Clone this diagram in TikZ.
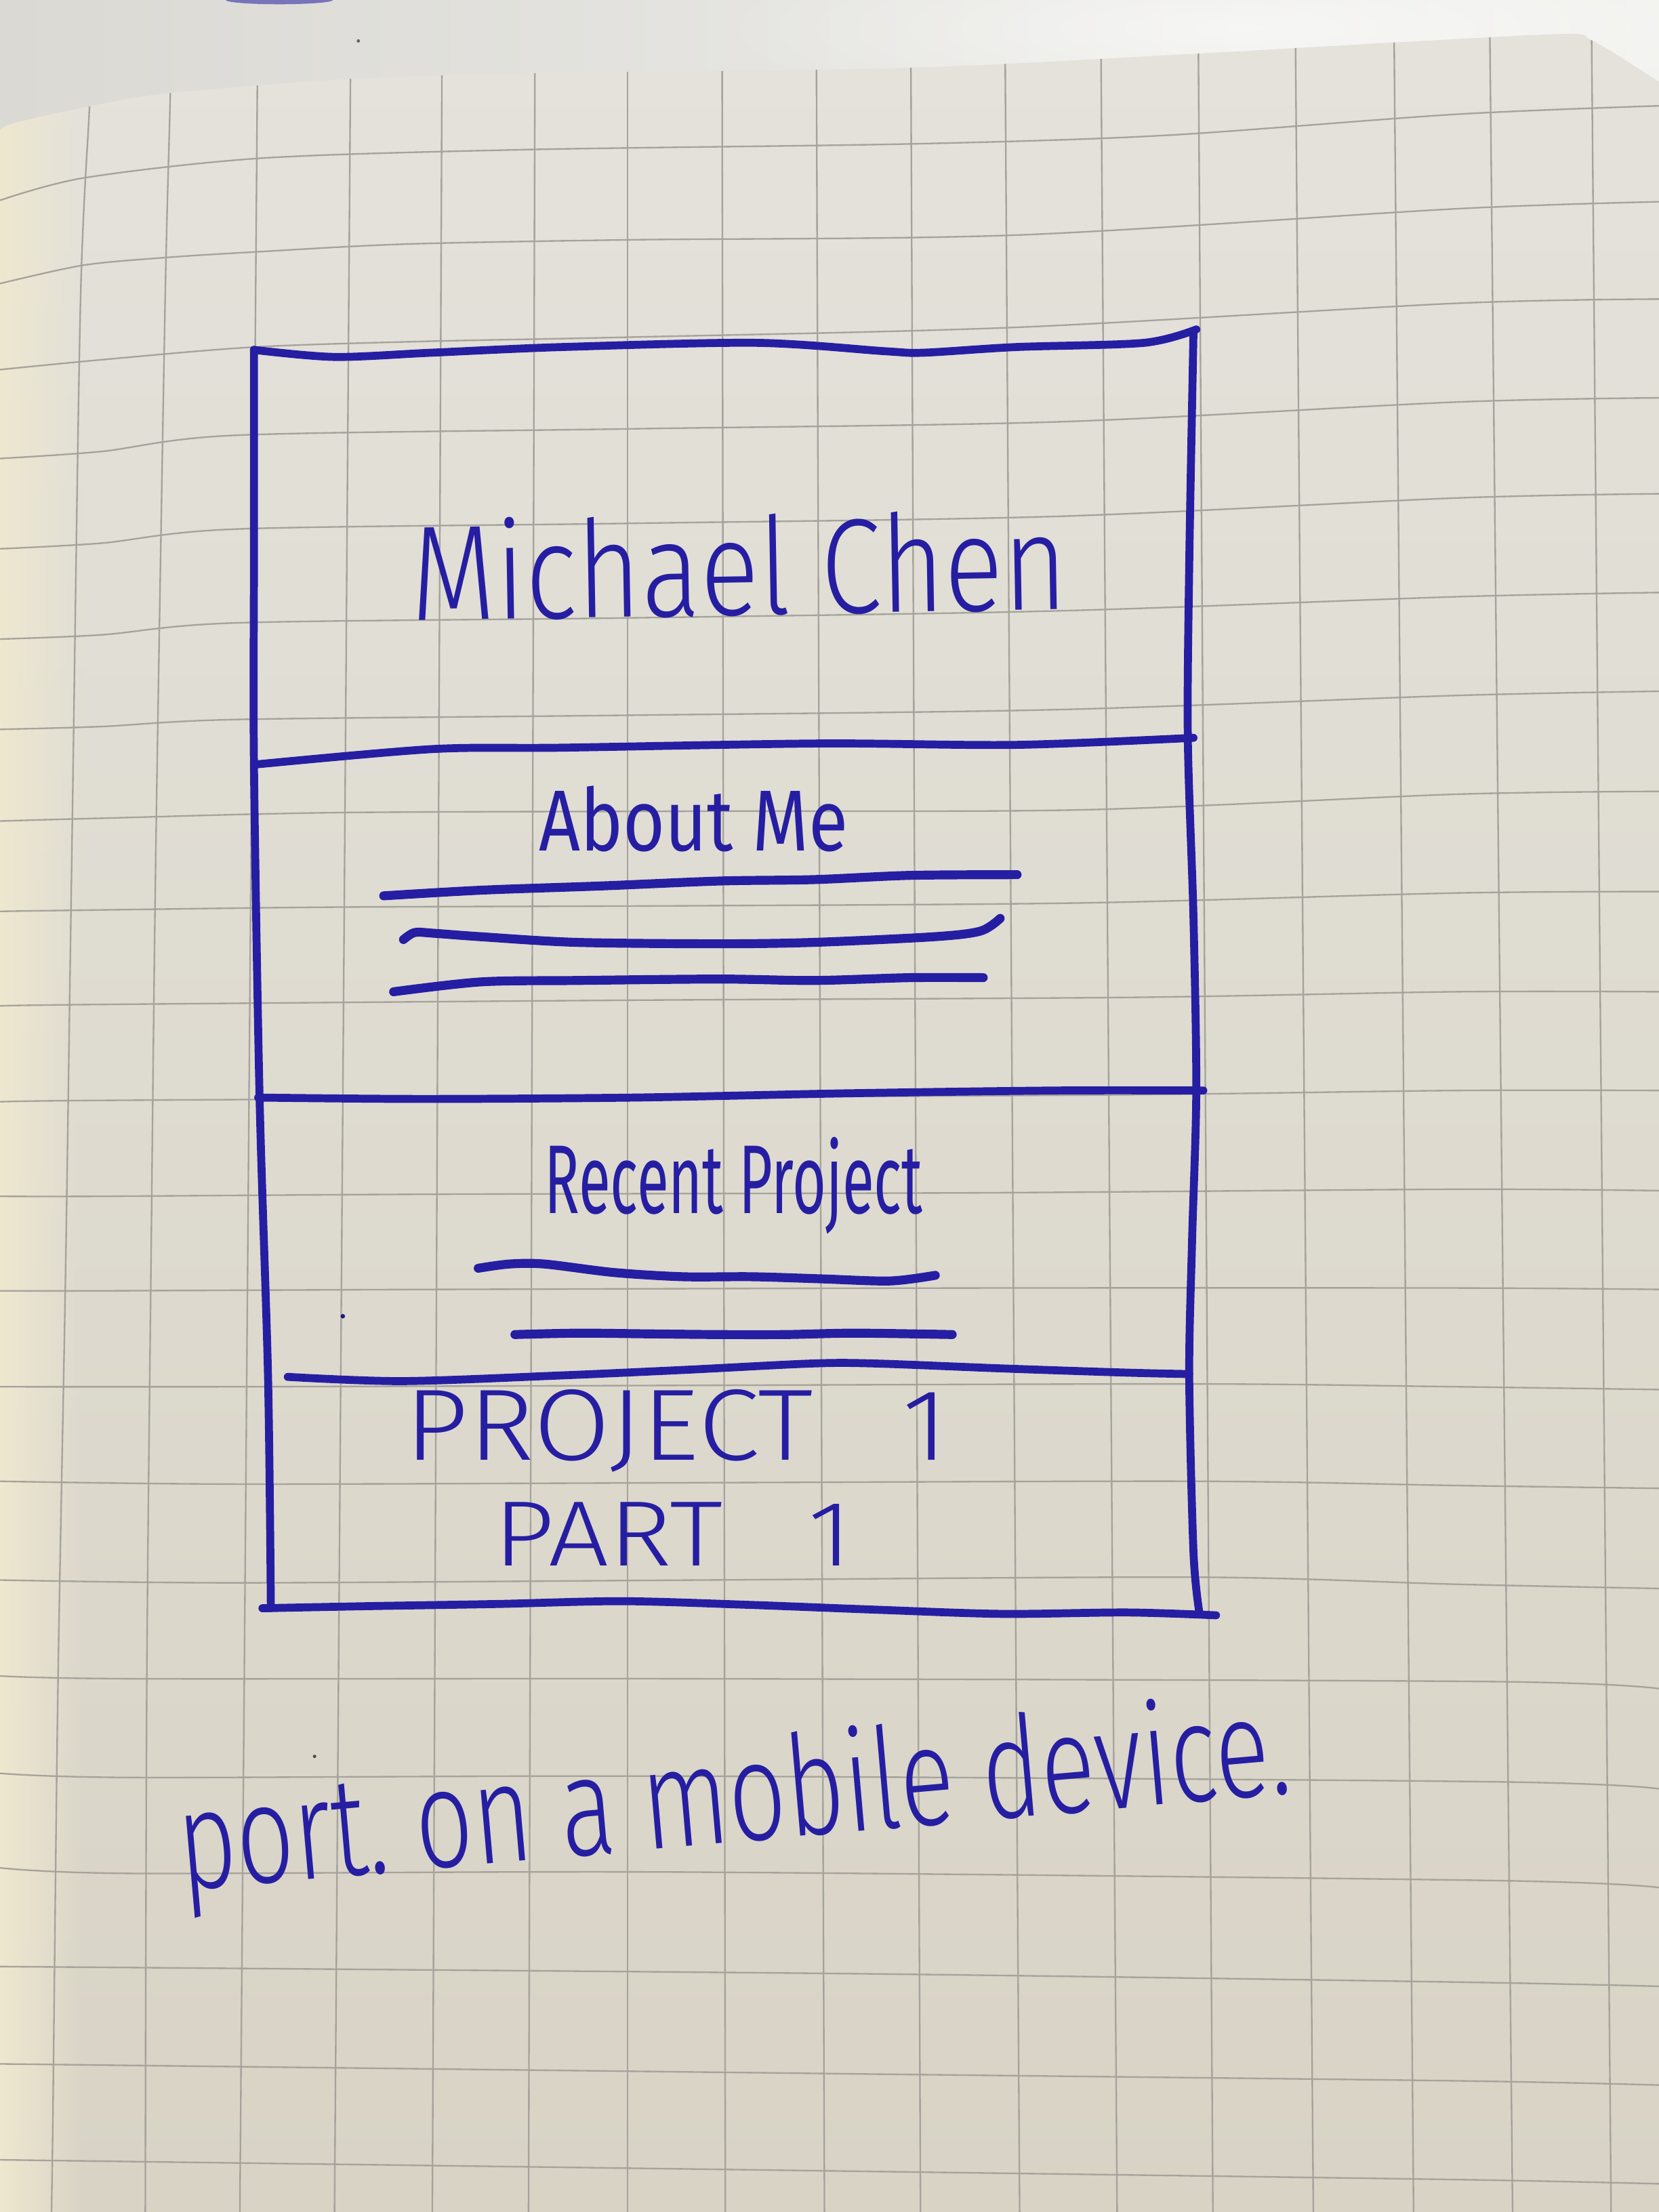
\documentclass[tikz,border=0pt]{standalone}
\usepackage{fontspec}
\usepackage{graphicx}
\usetikzlibrary{fadings}
\newfontfamily\handfont{Fira Sans}
\newfontfamily\handthin{Fira Sans Light}

\definecolor{ink}{RGB}{38,30,162}
\definecolor{paperTop}{RGB}{228,226,219}
\definecolor{paperBot}{RGB}{216,211,197}
\definecolor{backLeft}{RGB}{218,217,212}
\definecolor{backRight}{RGB}{242,242,239}
\definecolor{gutter}{RGB}{238,232,208}
\definecolor{rule}{RGB}{166,163,156}

\tikzfading[name=faderight, left color=transparent!0, right color=transparent!100]
\tikzfading[name=softglow, inner color=transparent!0, outer color=transparent!100]

\tikzset{
  gridline/.style={draw=rule, line width=0.32pt},
  boxline/.style={draw=ink, line width=1.6pt, line cap=round, line join=round},
  underline/.style={draw=ink, line width=1.8pt, line cap=round, line join=round},
  handtext/.style={text=ink, inner sep=0pt, outer sep=0pt, anchor=base west},
  pageoutline/.style={insert path={
    plot[smooth, tension=0.5] coordinates {(0,92) (11,87) (60,76) (120,66) (247,56)
      (375,52) (645,48) (848,38) (990,30) (1110,24) (1127,28) (1148,40) (1176,58)}
    -- (1176,1568) -- (0,1568) -- cycle}},
}

\begin{document}
\begin{tikzpicture}[x=0.01cm, y=-0.01cm]
\useasboundingbox (0,0) rectangle (1176,1568);

% surface behind the notebook page
\shade[left color=backLeft, right color=backRight] (0,0) rectangle (1176,120);
\fill[white, opacity=0.55, path fading=softglow] (880,20) ellipse [x radius=380, y radius=70];
\fill[ink, opacity=0.55] (198,0) ellipse [x radius=38, y radius=3];
\fill[black!60] (254,29) circle (1.2);

% the page
\shade[top color=paperTop, bottom color=paperBot, pageoutline];
\begin{scope}
  \clip[pageoutline];
  \fill[gutter, path fading=faderight] (0,80) rectangle (60,1568);

  % vertical rules (x at y=112 and at y=1450)
  \draw[gridline] plot[smooth, tension=0.5] coordinates {(64,40) (63.4,76) (57,216) (51,600) (46.5,900) (41,1200) (37.5,1500) (36.5,1568)};
  \draw[gridline] plot[smooth, tension=0.5] coordinates {(121,40) (120.5,76) (117,216) (110.5,600) (107,900) (104,1200) (103,1568)};
  \foreach \xt/\xb in {182/171, 248/238, 313/307, 379/375, 445/445, 512/514,
                       579/584, 646/652, 713/722, 781/791, 850/859, 919/930,
                       989/1001, 1057/1071, 1129/1141}
    \draw[gridline] ({\xt-(\xb-\xt)*0.0837},0) -- ({\xt+(\xb-\xt)*1.0882},1568);

  % horizontal rules
  \draw[gridline] plot[smooth, tension=0.5] coordinates {(0,142) (60,126) (187,112) (375,106) (645,102) (825,96) (1032,81) (1176,75)};
  \draw[gridline] plot[smooth, tension=0.5] coordinates {(0,201) (59,188) (118,182.5) (182,178.5) (288,173) (445,170) (721,166.6) (1032,148) (1176,143)};
  \draw[gridline] plot[smooth, tension=0.5] coordinates {(0,262) (72,255) (180,246) (300,242) (445,239) (721,232) (1032,215) (1176,212)};
  \draw[gridline] plot[smooth, tension=0.5] coordinates {(0,325) (72,320) (168,308.5) (445,304) (750,299) (1032,285) (1176,282)};
  \draw[gridline] plot[smooth, tension=0.5] coordinates {(0,389) (72,385) (168,375) (445,371) (750,366) (1032,353) (1176,350)};
  \draw[gridline] plot[smooth, tension=0.5] coordinates {(0,453) (72,450) (168,441.5) (445,438) (750,433) (1032,423) (1176,420)};
  \draw[gridline] plot[smooth, tension=0.5] coordinates {(0,517) (72,515) (168,510) (445,507) (750,503) (1032,493) (1176,490)};
  \draw[gridline] plot[smooth, tension=0.5] coordinates {(0,582) (72,580) (240,576) (500,575) (769,574) (1032,563) (1176,561)};
  \draw[gridline] plot[smooth, tension=0.5] coordinates {(0,646) (72,645) (240,643) (500,642) (769,640) (1032,633) (1176,632)};
  \draw[gridline] plot[smooth, tension=0.5] coordinates {(0,713) (72,712) (445,709) (800,707) (1032,703) (1176,703)};
  \draw[gridline] plot[smooth, tension=0.5] coordinates {(0,781) (72,780) (445,778) (800,776) (1032,773) (1176,773)};
  \draw[gridline] plot[smooth, tension=0.5] coordinates {(0,848) (72,848) (312,846.5) (697,845.5) (1032,843) (1176,844)};
  \draw[gridline] plot[smooth, tension=0.5] coordinates {(0,915) (72,915) (312,914) (697,913) (1032,913) (1176,914)};
  \draw[gridline] plot[smooth, tension=0.5] coordinates {(0,983) (167,983) (500,982) (850,981) (1032,983) (1176,985)};
  \draw[gridline] plot[smooth, tension=0.5] coordinates {(0,1050) (167,1052) (500,1051) (850,1050) (1032,1053) (1176,1055)};
  \draw[gridline] plot[smooth, tension=0.5] coordinates {(0,1120) (167,1122) (500,1120) (850,1118) (1032,1123) (1176,1126)};
  \draw[gridline] plot[smooth, tension=0.5] coordinates {(0,1188) (96,1190) (500,1190) (1057,1192) (1176,1197)};
  \draw[gridline] plot[smooth, tension=0.5] coordinates {(0,1257) (96,1260) (480,1259) (1057,1263) (1176,1268)};
  \draw[gridline] plot[smooth, tension=0.5] coordinates {(0,1324) (96,1328) (480,1327) (1057,1333) (1176,1338)};
  \draw[gridline] plot[smooth, tension=0.5] coordinates {(0,1394) (600,1399) (1032,1405) (1176,1408)};
  \draw[gridline] plot[smooth, tension=0.5] coordinates {(0,1463) (600,1470) (1032,1475) (1176,1478)};
  \draw[gridline] plot[smooth, tension=0.5] coordinates {(0,1531) (600,1539) (1032,1545) (1176,1548)};
\end{scope}

% phone frame, drawn in pen
\draw[boxline] plot[smooth, tension=0.5] coordinates {(180,248) (237,253) (306,250) (398,246) (536,243) (628,249) (655,250) (720,246) (811,243) (848,233.5)};
\draw[boxline] plot[smooth, tension=0.5] coordinates {(846,236) (843,400) (842,523) (846,650) (848,773) (845,880) (843,975) (846,1100) (850,1142)};
\draw[boxline] plot[smooth, tension=0.5] coordinates {(180,248) (180,400) (180,540) (184,778) (190,976) (192,1140)};
\draw[boxline] plot[smooth, tension=0.5] coordinates {(186,1140) (262,1138.5) (352,1137) (441,1135) (531,1137.6) (620,1141) (710,1144) (799,1143) (862,1145)};

% section dividers
\draw[boxline] plot[smooth, tension=0.5] coordinates {(180,542) (306,531) (398,530) (582,527) (720,528) (846,523)};
\draw[boxline] plot[smooth, tension=0.5] coordinates {(183,778) (300,779) (450,778) (600,775) (750,773) (853,773)};
\draw[boxline] plot[smooth, tension=0.5] coordinates {(204,976) (285,979) (397,975) (486,971) (576,966.5) (620,966.5) (710,970) (799,973) (843,974)};

% placeholder text lines
\draw[underline] plot[smooth, tension=0.5] coordinates {(272,635) (341,631) (426,628) (510,624.5) (577,623.5) (645,620.5) (721,620)};
\draw[underline] plot[smooth, tension=0.5] coordinates {(286,666) (294,661) (307,661.5) (341,664) (409,668) (510,669) (577,668) (662,664) (695,660) (709,651)};
\draw[underline] plot[smooth, tension=0.5] coordinates {(279,703) (341,696) (409,695) (510,694) (577,695) (645,693) (697,693)};
\draw[underline] plot[smooth, tension=0.5] coordinates {(339,899) (361,896) (386,896) (435,902) (484,905) (533,905) (582,906.5) (631,908) (663,904)};
\draw[underline] plot[smooth, tension=0.5] coordinates {(365,946) (410,945) (459,945.5) (508,946) (557,946) (606,945) (675,946)};

% handwritten labels
\node[handtext, rotate=1] (name) at (292,440) {\resizebox{4.65cm}{0.72cm}{\handthin Michael Chen}};
\node[handtext] (about) at (382,603) {\resizebox{2.19cm}{0.46cm}{\handfont About Me}};
\node[handtext] (recent) at (386,860) {\resizebox{2.68cm}{0.54cm}{\handfont Recent Project}};
\node[handtext] (project) at (287,1035) {\resizebox{3.85cm}{0.50cm}{\handthin PROJECT\hspace{0.8em}1}};
\node[handtext] (part) at (350,1110) {\resizebox{2.54cm}{0.45cm}{\handthin PART\hspace{0.8em}1}};
\node[handtext, rotate=5] (note) at (129,1340) {\resizebox{7.9cm}{0.75cm}{\handthin port.\ on a mobile device.}};

% stray pen specks
\fill[ink!80!black] (243,933) circle (1.6);
\fill[black!70] (223,1245) circle (1.2);
\end{tikzpicture}
\end{document}
